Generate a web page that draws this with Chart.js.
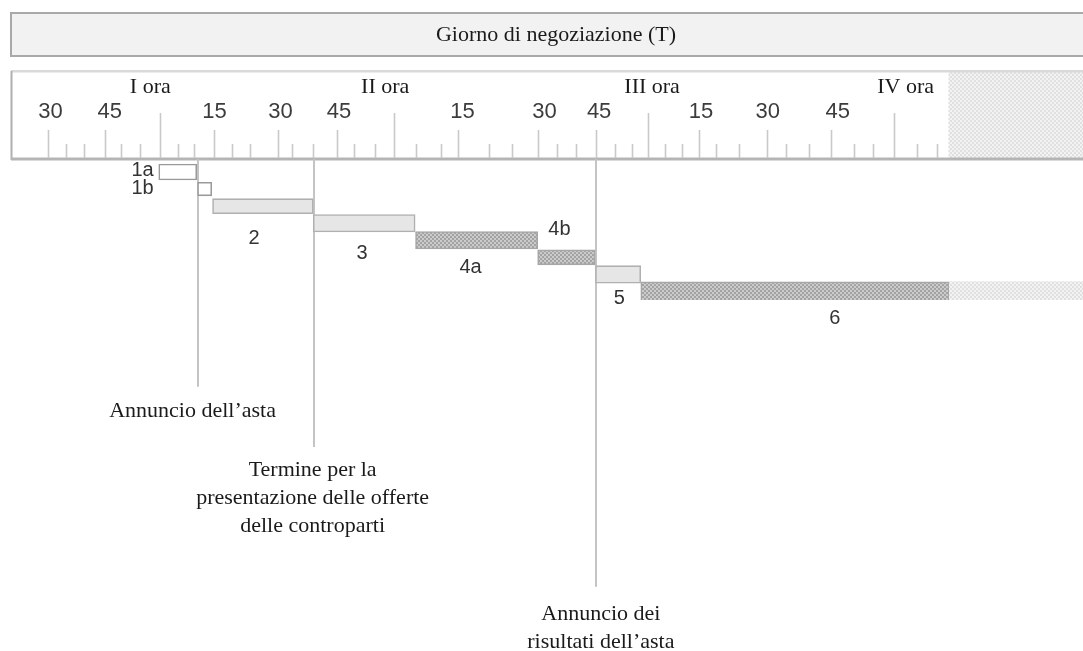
<!DOCTYPE html>
<html><head><meta charset="utf-8">
<script src="https://cdn.jsdelivr.net/npm/chart.js@4.4.1/dist/chart.umd.min.js"></script>
<style>html,body{margin:0;padding:0;background:#fff;overflow:hidden}#wrap{width:1083px;height:651px;position:relative}</style>
</head><body><div id="wrap"><canvas id="c" width="1083" height="651"></canvas></div>
<script>
// ---- data (x unit: minutes on the drawn ruler, 0 = start of "I ora") ----
const rows = ['1a','1b','2','3','4a','4b','5','6'];
const phaseStart = [-0.5, 9.1, 12.8, 37.7, 63.0, 93.2, 107.5, 118.7];
const phaseEnd   = [ 8.9, 12.6, 37.7, 62.9, 93.2, 107.4, 118.7, 195.0];
const phase6Continues = [195.0, 228.1];

const tickMarkPos = [-28.0,-23.5,-19.0,-13.9,-9.8,-5.1,-0.3,4.2,8.3,13.1,17.5,22.1,29.0,32.5,37.7,43.6,47.9,53.1,57.6,63.2,69.3,73.6,81.2,86.8,93.4,98.1,102.8,107.6,112.4,116.5,120.6,124.8,128.9,133.0,137.3,143.1,149.9,154.6,160.2,165.7,171.4,176.1,181.3,186.9,192.0];
const tickMarkMinute = tickMarkPos.map((_, i) => -30 + 5 * i);
const tickLabelPos = [-27.3,-12.6,13.3,29.6,44.1,74.6,94.9,108.4,133.6,150.1,167.4];
const tickLabels = ['30','45','15','30','45','15','30','45','15','30','45'];
const hourLabelPos = [-2.6, 55.5, 121.5, 184.2];
const hourLabels = ['I ora','II ora','III ora','IV ora'];
const closedFrom = 194.8;

const eventPos = [9.1, 37.8, 107.6];
const eventLabels = [
  ['Annuncio dell\u2019asta'],
  ['Termine per la','presentazione delle offerte','delle controparti'],
  ['Annuncio dei','risultati dell\u2019asta']
];
const rowLabelX = [-4.5, -4.5, 23.1, 49.8, 76.6, 98.6, 113.4, 166.7];
const rowLabelY = [-0.07, 0.95, 3.88, 4.76, 5.6, 3.36, 7.4, 8.57];
const titleText = 'Giorno di negoziazione (T)';

// ---- styles ----
const xMin = -38.95, xMax = 228.06;
const SERIF = '"Liberation Serif", "Times New Roman", serif';
const SANS = '"Liberation Sans", Arial, sans-serif';
const canvas = document.getElementById('c');
const mainCtx = canvas.getContext('2d');
function checker(c1, c2, cell) {
  const cv = document.createElement('canvas');
  cv.width = cv.height = cell * 2;
  const g = cv.getContext('2d');
  g.fillStyle = c1; g.fillRect(0, 0, cell * 2, cell * 2);
  g.fillStyle = c2; g.fillRect(0, 0, cell, cell); g.fillRect(cell, cell, cell, cell);
  return mainCtx.createPattern(cv, 'repeat');
}
const darkPat = checker('#a3a3a3', '#cbcbcb', 2);
const lightPat = checker('#e0e0e0', '#f3f3f3', 2);
const styleSet = {
  white: {bg: '#ffffff', border: '#9a9a9a'},
  light: {bg: '#e6e6e6', border: '#b0b0b0'},
  dark:  {bg: darkPat, border: '#a6a6a6'}
};
const rowStyle = ['white','white','light','light','dark','dark','light','dark'];
const rowThickness = [16, 13.5, 15, 17.5, 17.5, 15, 17.5, 19.5];
const eventLineEnd = [386.7, 447, 586.7];
const eventTextDx = [-5, -1, 5];
const eventTextY = [411.7, 470, 614.5];

const datasets = [{
  data: rows.map((_, j) => j === 7 ? phase6Continues : null),
  backgroundColor: lightPat, borderWidth: 0, barThickness: 20, grouped: false
}].concat(rows.map((r, i) => ({
  label: r,
  data: rows.map((_, j) => j === i ? [phaseStart[i], phaseEnd[i]] : null),
  backgroundColor: styleSet[rowStyle[i]].bg,
  borderColor: styleSet[rowStyle[i]].border,
  borderWidth: 1.6, borderSkipped: false,
  barThickness: rowThickness[i], grouped: false
})));

const decor = {
  id: 'decor',
  beforeDraw(chart) {
    const c = chart.ctx, xs = chart.scales.x;
    c.save();
    c.fillStyle = '#fff'; c.fillRect(0, 0, chart.width, chart.height);
    // banner
    c.fillStyle = '#f2f2f2'; c.fillRect(11, 13, 1090, 43);
    c.strokeStyle = '#a9a9a9'; c.lineWidth = 2; c.strokeRect(11, 13, 1090, 43);
    c.fillStyle = '#1a1a1a'; c.font = '22px ' + SERIF; c.textAlign = 'center'; c.textBaseline = 'middle';
    c.fillText(titleText, 556, 35);
    // ruler box
    const hx = xs.getPixelForValue(closedFrom);
    c.fillStyle = lightPat; c.fillRect(hx, 72, 1083 - hx, 87);
    c.fillStyle = '#d9d9d9'; c.fillRect(11, 70, 1072, 2.5);
    c.fillStyle = '#b0b0b0'; c.fillRect(10.5, 71, 2, 89);
    c.fillStyle = '#b5b5b5'; c.fillRect(11, 157.5, 1072, 3);
    // tick marks
    c.strokeStyle = '#c9c9c9'; c.lineWidth = 1.6;
    tickMarkPos.forEach((v, i) => {
      const m = tickMarkMinute[i];
      const top = (m % 60 === 0) ? 113 : (m % 15 === 0 ? 130 : 144);
      const px = Math.round(xs.getPixelForValue(v)) + 0.5;
      c.beginPath(); c.moveTo(px, top); c.lineTo(px, 158); c.stroke();
    });
    // event lines
    c.strokeStyle = '#c4c4c4'; c.lineWidth = 2;
    eventPos.forEach((v, i) => {
      const px = Math.round(xs.getPixelForValue(v));
      c.beginPath(); c.moveTo(px, 159); c.lineTo(px, eventLineEnd[i]); c.stroke();
    });
    c.restore();
  },
  afterDraw(chart) {
    const c = chart.ctx, xs = chart.scales.x, ys = chart.scales.y;
    c.save();
    c.textAlign = 'center'; c.textBaseline = 'middle';
    c.fillStyle = '#333333'; c.font = '20px ' + SANS;
    rows.forEach((r, i) => {
      c.fillText(r, xs.getPixelForValue(rowLabelX[i]), ys.getPixelForValue(rowLabelY[i]));
    });
    c.fillStyle = '#1a1a1a'; c.font = '22px ' + SERIF;
    eventLabels.forEach((lines, i) => {
      const px = xs.getPixelForValue(eventPos[i]) + eventTextDx[i];
      lines.forEach((t, k) => c.fillText(t, px, eventTextY[i] + k * 28.2));
    });
    c.restore();
  }
};

new Chart(canvas, {
  type: 'bar',
  data: {labels: rows, datasets},
  plugins: [decor],
  options: {
    responsive: false, animation: false, devicePixelRatio: 1,
    indexAxis: 'y',
    layout: {padding: {top: 71, bottom: 351, left: 0, right: 0}},
    plugins: {legend: {display: false}, tooltip: {enabled: false}, title: {display: false}},
    scales: {
      x: {
        type: 'linear', axis: 'x', position: 'top', min: xMin, max: xMax, weight: 0,
        grid: {display: false, drawTicks: false, tickLength: 0}, border: {display: false},
        afterBuildTicks: s => { s.ticks = tickLabelPos.map(v => ({value: v})); },
        afterFit: s => { s.height = 61.5; },
        ticks: {autoSkip: false, maxRotation: 0, minRotation: 0, padding: 38, color: '#3c3c3c',
          font: {family: SANS, size: 22}, callback: (v, i) => tickLabels[i]}
      },
      x2: {
        type: 'linear', axis: 'x', position: 'top', min: xMin, max: xMax, weight: 1,
        grid: {display: false, drawTicks: false, tickLength: 0}, border: {display: false},
        afterBuildTicks: s => { s.ticks = hourLabelPos.map(v => ({value: v})); },
        afterFit: s => { s.height = 31; },
        ticks: {autoSkip: false, maxRotation: 0, minRotation: 0, padding: 2, color: '#1a1a1a',
          font: {family: SERIF, size: 22}, callback: (v, i) => hourLabels[i]}
      },
      y: {type: 'category', display: false, offset: true}
    }
  }
});
</script></body></html>
